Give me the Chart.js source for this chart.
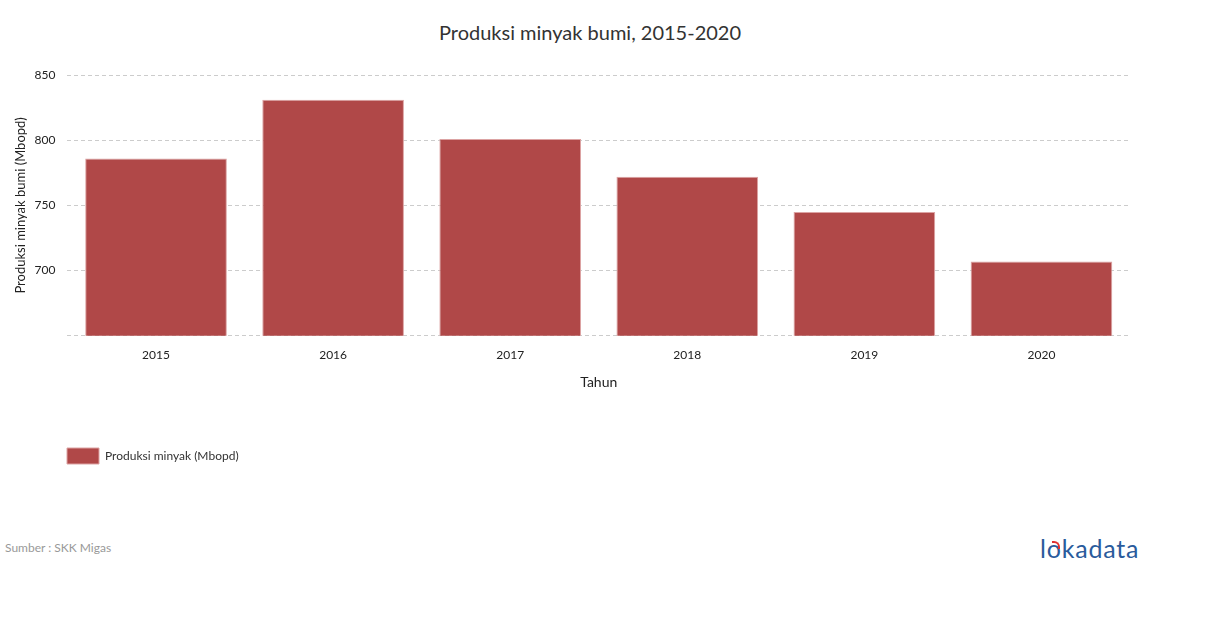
<html>
<head>
<title>Produksi minyak bumi</title>
<style>
  body { margin: 0; background: #fff; font-family: Lato, sans-serif; }
  .wrap { position: relative; width: 1210px; height: 628px; }
  #chart-box { position: absolute; left: 0; top: 0; width: 1210px; height: 474px; }
  .title { position: absolute; left: 390px; width: 400px; top: 20px; text-align: center; font-size: 20px; color: #333; }
  .source { position: absolute; left: 5px; top: 540px; font-size: 12px; color: #999; }
  .logo { position: absolute; left: 1040px; top: 533px; font-size: 25px; color: #2a5b9c; letter-spacing: 0.8px; }
  .logo .o { position: relative; }
  .logo .o:after { content: ""; position: absolute; left: 5px; top: 8px; width: 6px; height: 6px; border-top: 2px solid #e03030; border-right: 2px solid #e03030; border-radius: 0 6px 0 0; }
</style>
</head>
<body>
<div class="wrap">
  <div class="title">Produksi minyak bumi, 2015-2020</div>
  <div id="chart-box"><canvas id="myChart"></canvas></div>
  <div class="source">Sumber : SKK Migas</div>
  <div class="logo">l<span class="o">o</span>kadata</div>
</div>
<script src="https://cdn.jsdelivr.net/npm/chart.js@4/dist/chart.umd.min.js"></script>
<script>
var years = ['2015', '2016', '2017', '2018', '2019', '2020'];
var produksi = [786, 831, 801, 772, 745, 707];
var yTicks = [650, 700, 750, 800, 850];

var ctx = document.getElementById('myChart');
var chart = new Chart(ctx, {
    type: 'bar',
    data: {
        labels: years,
        datasets: [{
            label: 'Produksi minyak (Mbopd)',
            data: produksi,
            backgroundColor: '#b04848',
            borderColor: '#dca3a3',
            borderWidth: 1,
            borderSkipped: 'bottom',
            categoryPercentage: 1.0,
            barPercentage: 0.8
        }]
    },
    options: {
        responsive: true,
        maintainAspectRatio: false,
        animation: false,
        layout: { padding: { left: 13, right: 80, top: 75, bottom: 0 } },
        plugins: {
            title: { display: false },
            legend: {
                position: 'bottom',
                align: 'start',
                labels: {
                    boxWidth: 32,
                    boxHeight: 16,
                    padding: 54,
                    color: '#333',
                    font: { family: 'Lato', size: 12 }
                }
            },
            tooltip: { enabled: false }
        },
        scales: {
            x: {
                grid: { display: false },
                border: { display: false },
                ticks: { color: '#222', font: { family: 'Lato', size: 12 }, padding: 4 },
                title: {
                    display: true,
                    text: 'Tahun',
                    color: '#222',
                    font: { family: 'Lato', size: 14 },
                    padding: { top: 8, bottom: 3 }
                }
            },
            y: {
                min: 650,
                max: 850,
                afterBuildTicks: function(axis) {
                    axis.ticks = yTicks.map(function(v) { return { value: v }; });
                },
                grid: { color: '#cccccc', drawTicks: false },
                border: { display: false, dash: [4, 3] },
                ticks: {
                    color: '#222',
                    font: { family: 'Lato', size: 12 },
                    padding: 12,
                    callback: function(v) { return v === 650 ? '' : v; }
                },
                title: {
                    display: true,
                    text: 'Produksi minyak bumi (Mbopd)',
                    color: '#222',
                    font: { family: 'Lato', size: 13 },
                    padding: { top: 0, bottom: -6 }
                }
            }
        }
    }
});
</script>
</body>
</html>
